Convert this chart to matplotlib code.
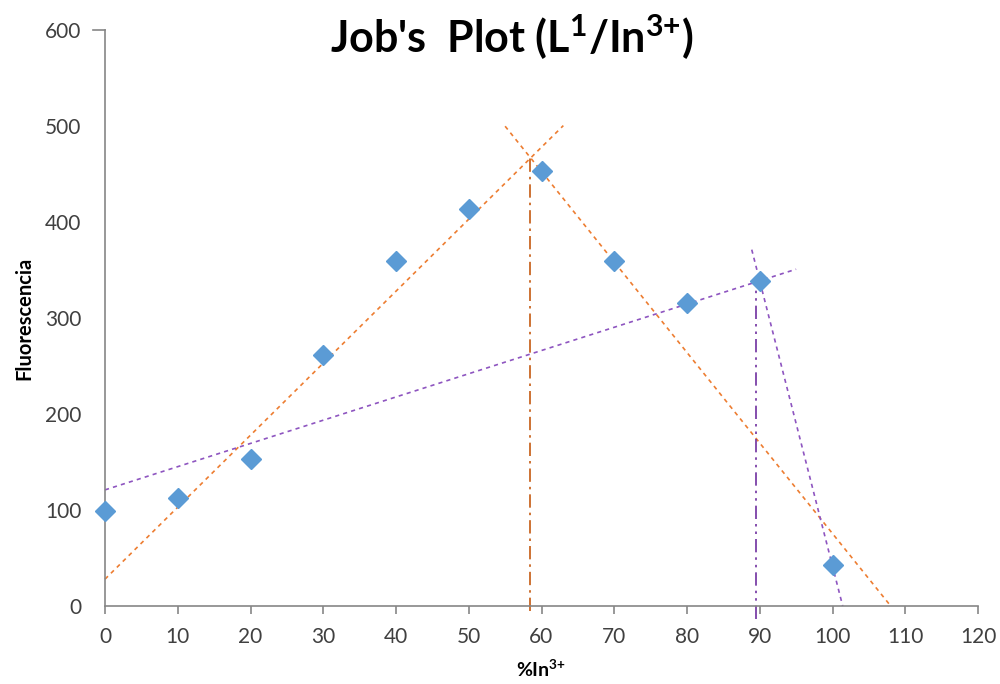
import numpy as np
import matplotlib.pyplot as plt

plt.rcParams['font.family'] = ['Lato', 'DejaVu Sans']
plt.rcParams['mathtext.fontset'] = 'custom'
plt.rcParams['mathtext.rm'] = 'Lato'
plt.rcParams['mathtext.bf'] = 'Lato:bold'

# Job's method measurements
pct_in = [0, 10, 20, 30, 40, 50, 60, 70, 80, 90, 100]
fluor = [99, 113, 153, 261, 359, 414, 453, 359, 316, 339, 43]

# fitted trend lines: (x start, x end, intercept, slope)
orange_rise = (0, 63, 28, 7.5)
orange_fall = (55, 108, 1018.5, -9.43)
purple_rise = (0, 95, 121, 2.42)
purple_fall = (88.9, 101.4, 3011.6, -29.7)

# stoichiometry markers: (x, top)
orange_cut = (58.4, 468)
purple_cut = (89.5, 338)

blue = '#5B9BD5'
orange = '#ED7D31'
orange_dark = '#C55A11'
purple = '#8E55C0'
purple_dark = '#7030A0'

fig = plt.figure(figsize=(10, 6.84), dpi=100)
ax = fig.add_axes([0.105, 0.114, 0.873, 0.842])


def trend(ax, seg, color):
    x0, x1, b, m = seg
    xs = np.array([x0, x1])
    ax.plot(xs, b + m * xs, color=color, lw=1.2, ls=(0, (2.5, 2.5)),
            zorder=2, clip_on=False)


trend(ax, orange_rise, orange)
trend(ax, orange_fall, orange)
trend(ax, purple_rise, purple)
trend(ax, purple_fall, purple)

ax.plot([orange_cut[0]] * 2, [-5, orange_cut[1]], color=orange_dark, lw=1.2,
        ls=(0, (8, 3, 1.5, 3)), clip_on=False, zorder=2)
ax.plot([purple_cut[0]] * 2, [-14, purple_cut[1]], color=purple_dark, lw=1.2,
        ls=(0, (8, 3, 1.5, 3, 1.5, 3)), clip_on=False, zorder=2)

ax.plot(pct_in, fluor, ls='none', marker='D', ms=10, color=blue,
        mec=blue, zorder=3, clip_on=False)

ax.set_xlim(0, 120)
ax.set_ylim(0, 600)
ax.set_xticks(range(0, 121, 10))
ax.set_yticks(range(0, 601, 100))

for side in ('top', 'right'):
    ax.spines[side].set_visible(False)
for side in ('left', 'bottom'):
    ax.spines[side].set_color('#868686')
    ax.spines[side].set_linewidth(1.2)
ax.tick_params(axis='both', colors='#868686', labelcolor='#404040',
               labelsize=15, length=6, width=1.2)
ax.tick_params(axis='x', pad=9)
ax.tick_params(axis='y', length=0, pad=17)
ax.plot([-1.6, 0], [600, 600], color='#868686', lw=1.2, clip_on=False)

ax.set_xlabel(r'%In$^{\mathbf{3{+}}}$', fontsize=14, fontweight='bold',
              labelpad=8)
ax.set_ylabel('Fluorescencia', fontsize=14.5, fontweight='bold', labelpad=8)

fig.text(0.512, 0.945, r"Job's  Plot (L$^{\mathbf{1}}$/In$^{\mathbf{3{+}}}$)",
         ha='center', va='center', fontsize=31, fontweight='bold')

fig.savefig('out.png', dpi=100)
